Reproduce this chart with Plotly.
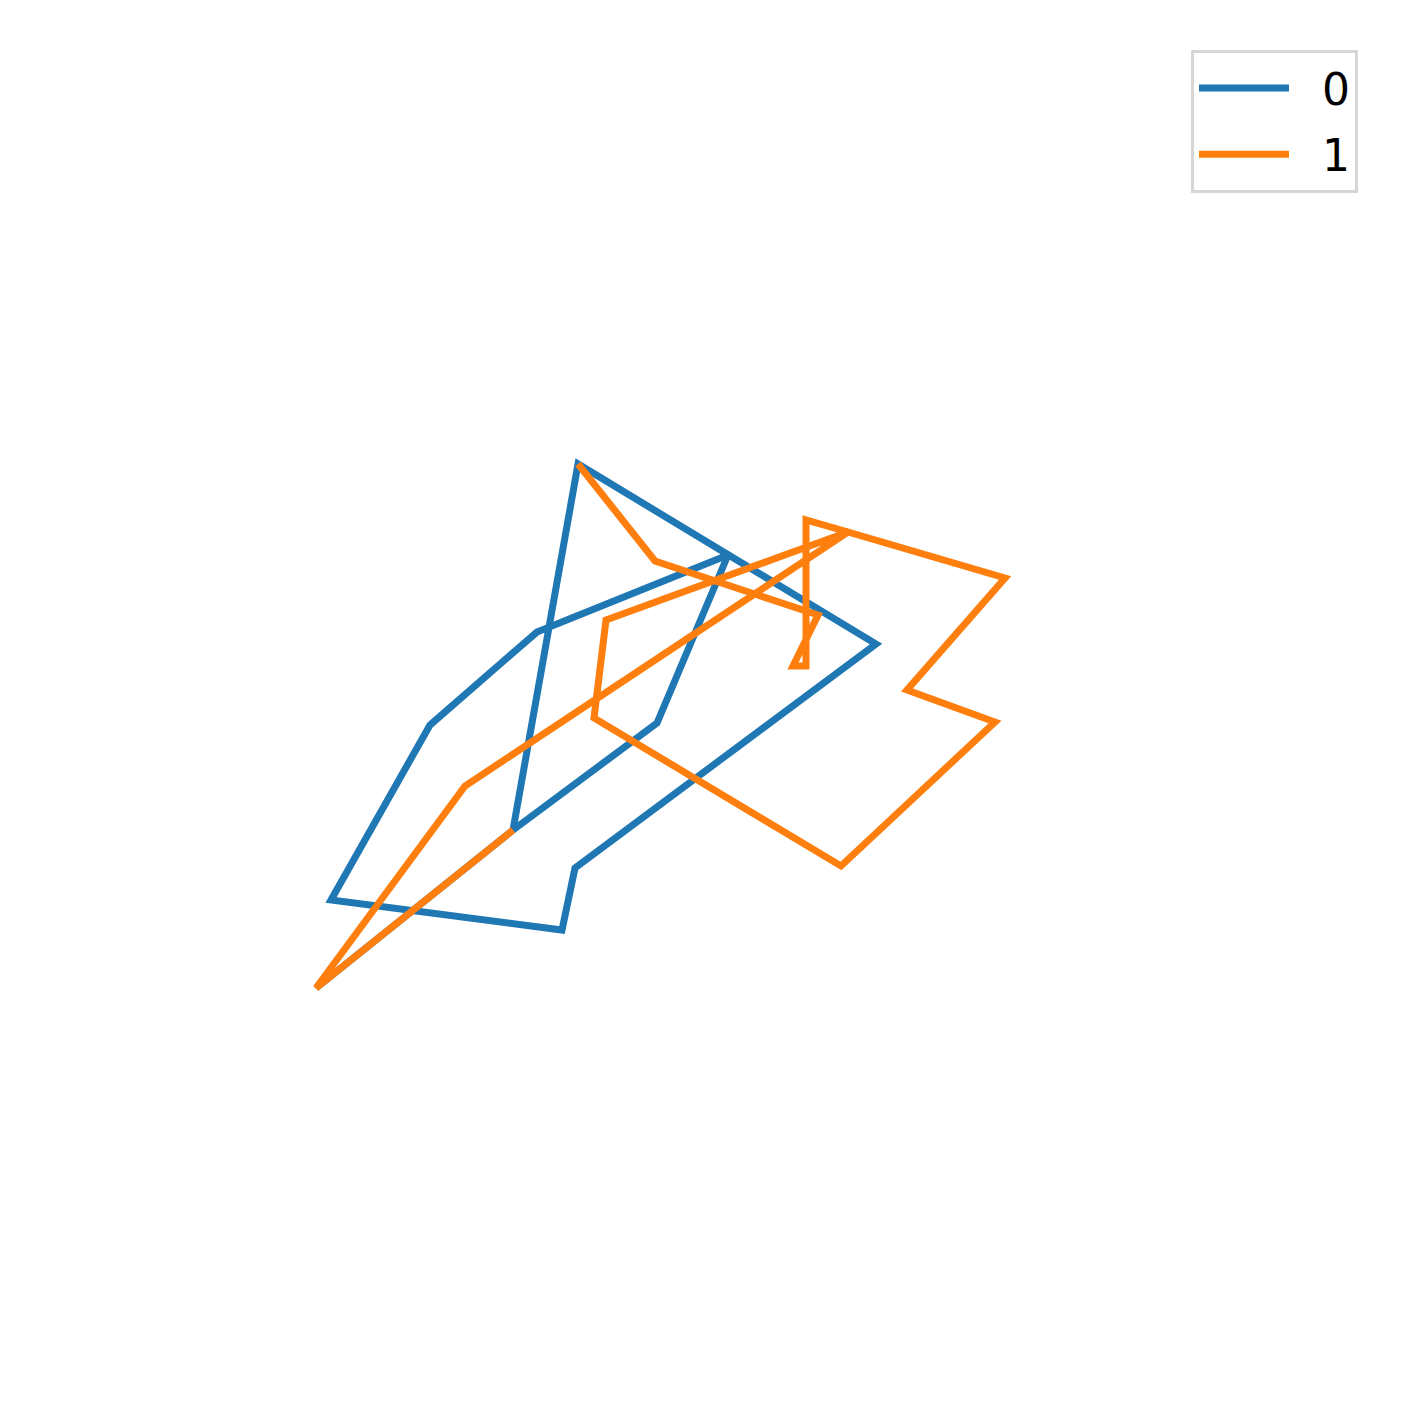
import plotly.graph_objects as go

# Series values (in canvas units; y grows downward)
x0 = [316, 513, 578, 876, 575, 562, 331, 430, 537, 728, 657, 513]
y0 = [988, 830, 464, 644, 868, 930, 900, 725, 632, 555, 723, 830]

x1 = [578, 655, 818, 793, 806, 806, 848, 606, 594, 841, 995, 907, 1005, 848, 465, 316, 513]
y1 = [464, 561, 615, 666, 666, 520, 532, 620, 718, 866, 722, 690, 578, 532, 786, 988, 830]

names = ["0", "1"]
colors = ["#1f77b4", "#ff7f0e"]

OFF = 8  # page body margin of the html page

fig = go.Figure()
for xs, ys, nm, c in zip([x0, x1], [y0, y1], names, colors):
    fig.add_trace(go.Scatter(x=xs, y=ys, mode="lines", name="\u00a0\u00a0" + nm,
                             legendgroup=nm,
                             line=dict(color=c, width=7)))

fig.update_layout(
    width=1409, height=1410,
    margin=dict(l=0, r=0, t=0, b=0),
    paper_bgcolor="white", plot_bgcolor="white",
    xaxis=dict(range=[OFF, 1409 + OFF], visible=False),
    yaxis=dict(range=[1410 + OFF, OFF], visible=False),
    showlegend=True,
    legend=dict(
        x=(1358 - OFF) / 1409, y=1 - (50 - OFF) / 1410, xanchor="right", yanchor="top",
        bgcolor="white", bordercolor="#d6d6d6", borderwidth=3,
        font=dict(family="DejaVu Sans", size=44, color="black"),
        itemwidth=90, tracegroupgap=6,
    ),
)
fig.write_html("out.html")
